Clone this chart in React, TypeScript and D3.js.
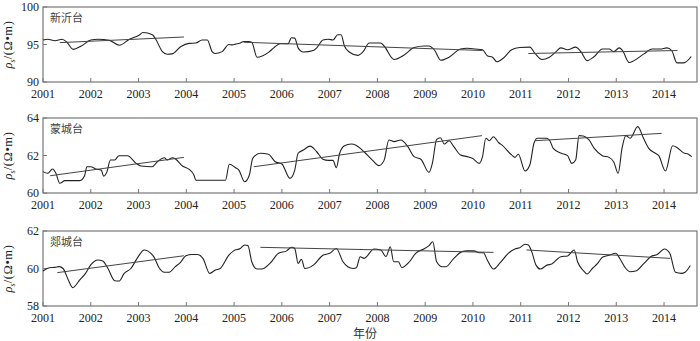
import React from "react";
import * as d3 from "d3";

const years = [2001, 2002, 2003, 2004, 2005, 2006, 2007, 2008, 2009, 2010, 2011, 2012, 2013, 2014];
const xDomain = [2001, 2014.69];

const xinyiNames = "新沂台";
const xinyiTicks = [90, 95, 100];
const xinyiSeries: [number, number][] = [
  [2001.0, 95.6], [2001.1, 95.7], [2001.25, 95.5], [2001.4, 95.7], [2001.5, 95.3], [2001.63, 94.35], [2001.8, 94.8],
  [2002.0, 95.6], [2002.15, 95.7], [2002.39, 95.55], [2002.6, 94.9], [2002.81, 95.7], [2003.02, 96.27],
  [2003.09, 96.6], [2003.29, 96.3], [2003.36, 95.7], [2003.5, 94.05], [2003.6, 93.7], [2003.7, 93.75],
  [2003.88, 94.7], [2004.06, 95.15], [2004.2, 95.2], [2004.33, 95.6], [2004.44, 95.6], [2004.54, 94.05],
  [2004.6, 93.8], [2004.75, 94.05], [2004.89, 95.0], [2004.96, 94.95], [2005.03, 95.05], [2005.13, 95.2],
  [2005.2, 95.4], [2005.3, 95.4], [2005.37, 95.3], [2005.48, 93.3], [2005.72, 93.95], [2005.83, 94.55],
  [2005.96, 95.1], [2006.13, 95.1], [2006.2, 95.9], [2006.27, 95.85], [2006.34, 94.55], [2006.45, 94.0],
  [2006.66, 94.2], [2006.73, 94.55], [2006.86, 95.6], [2006.97, 95.7], [2007.07, 95.6], [2007.17, 96.3],
  [2007.24, 96.3], [2007.31, 94.8], [2007.41, 94.0], [2007.59, 93.55], [2007.7, 94.05], [2007.83, 95.2],
  [2008.07, 95.2], [2008.14, 94.8], [2008.35, 93.0], [2008.56, 93.6], [2008.77, 94.6], [2008.98, 94.8],
  [2009.08, 94.8], [2009.19, 94.3], [2009.33, 92.9], [2009.5, 93.3], [2009.74, 94.4], [2009.88, 94.5],
  [2010.05, 94.4], [2010.2, 94.3], [2010.3, 93.5], [2010.41, 93.3], [2010.5, 92.7], [2010.64, 93.2],
  [2010.81, 94.3], [2010.98, 94.6], [2011.19, 94.65], [2011.3, 93.8], [2011.44, 93.0], [2011.6, 93.3],
  [2011.74, 94.05], [2011.84, 94.55], [2011.98, 94.3], [2012.15, 94.65], [2012.26, 94.05], [2012.39, 92.85],
  [2012.54, 93.4], [2012.71, 94.4], [2012.85, 94.4], [2012.95, 94.05], [2013.06, 94.55], [2013.13, 94.2],
  [2013.27, 92.6], [2013.37, 92.85], [2013.58, 93.75], [2013.75, 94.4], [2013.92, 94.4], [2014.06, 94.55],
  [2014.16, 94.2], [2014.27, 92.55], [2014.41, 92.55], [2014.57, 93.4],
];
const xinyiTrends: [number, number, number, number][] = [
  [2001.35, 95.25, 2003.95, 96.0],
  [2005.2, 95.3, 2010.2, 94.2],
  [2011.16, 93.8, 2014.28, 94.2],
];

const mengchengName = "蒙城台";
const mengchengTicks = [60, 62, 64];
const mengchengSeries: [number, number][] = [
  [2001.0, 61.14], [2001.1, 61.05], [2001.2, 61.28], [2001.27, 61.05], [2001.35, 60.52], [2001.46, 60.66],
  [2001.77, 60.66], [2001.87, 60.92], [2001.92, 61.4], [2002.0, 61.4], [2002.11, 61.28], [2002.22, 61.22],
  [2002.27, 60.9], [2002.34, 61.14], [2002.41, 61.76], [2002.5, 61.76], [2002.59, 61.99], [2002.77, 61.99],
  [2002.95, 61.58], [2003.05, 61.44], [2003.28, 61.4], [2003.4, 61.68], [2003.54, 61.88], [2003.6, 61.76],
  [2003.71, 61.88], [2003.78, 61.8], [2003.92, 61.44], [2004.06, 61.26], [2004.16, 60.95], [2004.2, 60.68],
  [2004.82, 60.68], [2004.9, 61.53], [2005.03, 61.35], [2005.1, 61.22], [2005.22, 60.6], [2005.32, 60.96],
  [2005.39, 61.85], [2005.55, 62.12], [2005.72, 62.07], [2005.86, 61.67], [2006.0, 61.55], [2006.17, 60.78],
  [2006.27, 61.22], [2006.34, 62.12], [2006.45, 62.29], [2006.59, 62.5], [2006.73, 62.2], [2006.86, 61.8],
  [2006.97, 61.74], [2007.07, 61.74], [2007.14, 61.35], [2007.21, 62.12], [2007.31, 62.52], [2007.45, 62.61],
  [2007.55, 62.55], [2007.72, 62.2], [2007.9, 61.74], [2008.03, 61.46], [2008.14, 61.74], [2008.24, 62.83],
  [2008.35, 62.74], [2008.49, 62.83], [2008.63, 62.5], [2008.77, 61.94], [2008.91, 61.8], [2009.08, 61.1],
  [2009.15, 61.58], [2009.24, 62.86], [2009.32, 62.95], [2009.4, 62.61], [2009.5, 62.79], [2009.6, 62.47],
  [2009.74, 62.03], [2009.88, 61.94], [2009.99, 61.85], [2010.13, 61.58], [2010.2, 61.94], [2010.27, 62.92],
  [2010.34, 62.79], [2010.43, 63.0], [2010.54, 62.68], [2010.61, 62.55], [2010.81, 62.03], [2010.88, 61.9],
  [2010.95, 62.07], [2011.09, 61.17], [2011.19, 61.49], [2011.28, 62.68], [2011.35, 62.92], [2011.54, 62.92],
  [2011.61, 62.79], [2011.68, 62.38], [2011.85, 62.12], [2011.98, 61.99], [2012.07, 61.58], [2012.15, 61.76],
  [2012.22, 63.06], [2012.31, 63.04], [2012.43, 62.83], [2012.54, 62.38], [2012.71, 61.99], [2012.85, 61.9],
  [2012.95, 61.64], [2013.04, 61.05], [2013.12, 62.38], [2013.2, 63.06], [2013.29, 62.92], [2013.45, 63.54],
  [2013.57, 62.92], [2013.68, 62.38], [2013.82, 62.12], [2013.89, 61.99], [2014.03, 61.17], [2014.18, 62.52],
  [2014.27, 62.43], [2014.41, 62.14], [2014.51, 62.07], [2014.58, 61.94],
];
const mengchengTrends: [number, number, number, number][] = [
  [2001.15, 60.92, 2003.95, 61.9],
  [2005.41, 61.4, 2010.19, 63.06],
  [2011.3, 62.79, 2013.95, 63.18],
];

const tanchengName = "郯城台";
const tanchengTicks = [58, 60, 62];
const tanchengSeries: [number, number][] = [
  [2001.0, 59.87], [2001.13, 60.04], [2001.25, 60.06], [2001.34, 60.1], [2001.42, 60.0], [2001.53, 59.39],
  [2001.62, 58.98], [2001.77, 59.39], [2001.89, 59.74], [2002.0, 60.19], [2002.15, 60.45], [2002.25, 60.4],
  [2002.36, 60.0], [2002.5, 59.35], [2002.59, 59.33], [2002.7, 59.74], [2002.84, 60.0], [2002.98, 60.58],
  [2003.12, 60.99], [2003.19, 60.94], [2003.33, 60.58], [2003.43, 60.04], [2003.54, 59.8], [2003.64, 59.8],
  [2003.77, 60.1], [2003.88, 60.33], [2003.99, 60.68], [2004.12, 60.75], [2004.23, 60.75], [2004.35, 60.53],
  [2004.49, 59.74], [2004.61, 59.92], [2004.71, 60.0], [2004.89, 60.71], [2004.99, 60.94], [2005.13, 61.07],
  [2005.22, 61.25], [2005.29, 61.22], [2005.37, 60.36], [2005.48, 59.97], [2005.58, 59.97], [2005.75, 60.27],
  [2005.93, 60.81], [2006.1, 60.94], [2006.2, 61.13], [2006.27, 61.07], [2006.34, 60.27], [2006.41, 60.49],
  [2006.48, 60.0], [2006.66, 60.18], [2006.86, 60.71], [2007.0, 60.81], [2007.14, 61.07], [2007.28, 60.36],
  [2007.38, 60.09], [2007.49, 60.0], [2007.56, 60.04], [2007.64, 60.63], [2007.72, 60.54], [2007.93, 61.04],
  [2008.07, 60.99], [2008.18, 60.63], [2008.27, 61.16], [2008.34, 60.36], [2008.44, 60.36], [2008.51, 60.05],
  [2008.67, 60.36], [2008.8, 60.81], [2008.97, 61.04], [2009.08, 61.22], [2009.16, 61.43], [2009.24, 60.36],
  [2009.36, 60.09], [2009.43, 60.09], [2009.6, 60.54], [2009.77, 60.9], [2009.88, 60.94], [2010.02, 60.94],
  [2010.13, 60.84], [2010.22, 60.84], [2010.3, 60.45], [2010.43, 59.97], [2010.57, 60.31], [2010.74, 60.81],
  [2010.88, 61.04], [2010.98, 61.11], [2011.09, 61.29], [2011.16, 61.25], [2011.23, 60.9], [2011.32, 60.18],
  [2011.41, 59.97], [2011.55, 60.18], [2011.65, 60.24], [2011.84, 60.63], [2011.98, 60.67], [2012.12, 60.99],
  [2012.19, 60.36], [2012.3, 59.92], [2012.39, 59.71], [2012.5, 60.0], [2012.61, 60.27], [2012.71, 60.6],
  [2012.85, 60.71], [2012.99, 60.81], [2013.08, 60.51], [2013.2, 60.0], [2013.29, 59.83], [2013.41, 59.87],
  [2013.58, 60.27], [2013.72, 60.63], [2013.86, 60.75], [2014.01, 61.04], [2014.12, 60.81], [2014.24, 59.8],
  [2014.36, 59.74], [2014.44, 59.8], [2014.55, 60.16],
];
const tanchengTrends: [number, number, number, number][] = [
  [2001.3, 59.78, 2003.95, 60.68],
  [2005.55, 61.13, 2010.43, 60.86],
  [2011.12, 60.99, 2014.13, 60.54],
];

const xLabel = "年份";

const panels = [
  { name: xinyiNames, ticks: xinyiTicks, series: xinyiSeries, trends: xinyiTrends, top: 7, bottom: 82 },
  { name: mengchengName, ticks: mengchengTicks, series: mengchengSeries, trends: mengchengTrends, top: 118, bottom: 193 },
  { name: tanchengName, ticks: tanchengTicks, series: tanchengSeries, trends: tanchengTrends, top: 231, bottom: 306 },
];

const LEFT = 43;
const RIGHT = 697;
const numFont = "'Liberation Serif', 'DejaVu Serif', serif";
const cjkFont = "'Noto Sans CJK SC', sans-serif";

function Panel({ p }: { p: typeof panels[number] }) {
  const x = d3.scaleLinear().domain(xDomain).range([LEFT, RIGHT]);
  const y = d3.scaleLinear().domain([p.ticks[0], p.ticks[p.ticks.length - 1]]).range([p.bottom, p.top]);
  const line = d3.line<[number, number]>().x((d) => x(d[0])).y((d) => y(d[1])).curve(d3.curveMonotoneX);
  const midY = (p.top + p.bottom) / 2;
  return (
    <g>
      <rect x={LEFT} y={p.top} width={RIGHT - LEFT} height={p.bottom - p.top} fill="none" stroke="#777" strokeWidth={1.2} />
      {years.map((yr) => (
        <g key={yr}>
          <line x1={x(yr)} x2={x(yr)} y1={p.bottom} y2={p.bottom - 4} stroke="#777" strokeWidth={1} />
          <text x={x(yr)} y={p.bottom + 16} textAnchor="middle" fontFamily={numFont} fontSize={12} fill="#222">{yr}</text>
        </g>
      ))}
      {p.ticks.map((t) => (
        <g key={t}>
          <line x1={LEFT} x2={LEFT + 4} y1={y(t)} y2={y(t)} stroke="#777" strokeWidth={1} />
          <text x={39} y={y(t) + 4} textAnchor="end" fontFamily={numFont} fontSize={12} fill="#222">{t}</text>
        </g>
      ))}
      <path d={line(p.series) || ""} fill="none" stroke="#222" strokeWidth={1.1} />
      {p.trends.map((t, i) => (
        <line key={i} x1={x(t[0])} y1={y(t[1])} x2={x(t[2])} y2={y(t[3])} stroke="#444" strokeWidth={1} />
      ))}
      <text x={50} y={p.top + 15} fontFamily={cjkFont} fontSize={11} fill="#444">{p.name}</text>
      <text transform={`translate(12,${midY}) rotate(-90)`} textAnchor="middle" fontFamily={numFont} fontSize={12.5} fill="#222">
        <tspan fontStyle="italic">ρ</tspan>
        <tspan fontSize={8} dy={3}>s</tspan>
        <tspan dy={-3} letterSpacing={0.6}>/(Ω•m)</tspan>
      </text>
    </g>
  );
}

export default function App() {
  return (
    <svg width={700} height={341} style={{ position: "absolute", left: 0, top: 0, background: "#fff" }}>
      <rect width={700} height={341} fill="#fff" />
      {panels.map((p, i) => (
        <Panel key={i} p={p} />
      ))}
      <text x={365} y={338} textAnchor="middle" fontFamily={cjkFont} fontSize={12} fill="#333">{xLabel}</text>
    </svg>
  );
}
